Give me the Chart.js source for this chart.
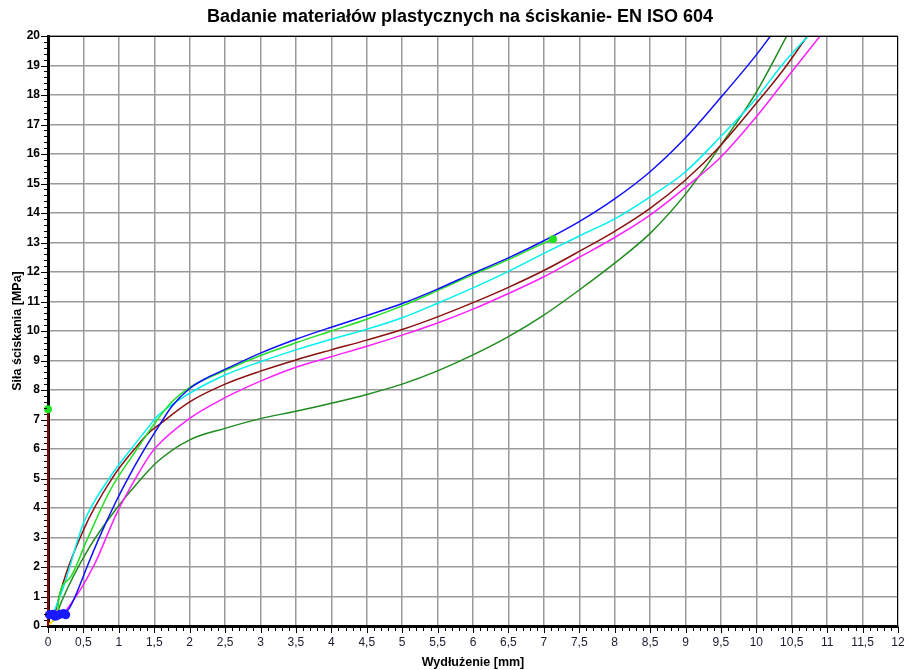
<!DOCTYPE html>
<html>
<head>
<meta charset="utf-8">
<script src="https://cdn.jsdelivr.net/npm/chart.js@4.4.1/dist/chart.umd.min.js"></script>
<style>
  html, body { margin: 0; padding: 0; background: #fff; }
  #wrap { width: 909px; height: 670px; }
</style>
</head>
<body>
<div id="wrap"><canvas id="chart"></canvas></div>
<script>
// Wydłużenie [mm] -> siła ściskania [MPa]
const blueX = [0.22, 0.3, 0.405, 0.55, 0.73, 0.97, 1.15, 1.3, 1.44, 1.56, 1.75, 2, 2.25, 2.5, 3, 3.5, 4, 4.5, 5, 5.5, 6, 6.5, 7, 7.5, 8, 8.5, 9, 9.5, 10, 10.2];
const blueY = [0.4, 0.6, 1.12, 2.0, 3.03, 4.27, 5.1, 5.74, 6.3, 6.76, 7.45, 8.05, 8.42, 8.7, 9.25, 9.72, 10.13, 10.52, 10.93, 11.42, 11.96, 12.48, 13.06, 13.71, 14.48, 15.4, 16.55, 17.92, 19.36, 20.0];

const greenX = [0.14, 0.15, 0.3, 0.55, 0.88, 1.2, 1.44, 1.53, 1.75, 2, 2.5, 3, 3.5, 4, 4.5, 5, 5.5, 6, 6.5, 7, 7.13];
const greenY = [0.4, 0.88, 1.6, 2.92, 4.61, 5.8, 6.65, 6.95, 7.6, 8.09, 8.66, 9.17, 9.6, 10.0, 10.4, 10.85, 11.37, 11.91, 12.42, 12.98, 13.11];

const cyanX = [0.08, 0.22, 0.5, 0.88, 1.2, 1.44, 1.53, 2, 2.5, 3, 3.5, 4, 4.5, 5, 5.5, 6, 6.5, 7, 7.5, 8, 8.5, 9, 9.5, 10, 10.38, 10.73];
const cyanY = [0.45, 1.33, 3.48, 5.06, 6.08, 6.81, 7.08, 7.89, 8.51, 8.96, 9.36, 9.72, 10.06, 10.45, 10.94, 11.46, 12.02, 12.63, 13.22, 13.8, 14.55, 15.4, 16.6, 17.89, 19.07, 20.0];

const brownX = [0.1, 0.12, 0.5, 0.92, 1.25, 1.44, 1.56, 2, 2.5, 3, 3.5, 4, 4.5, 5, 5.5, 6, 6.5, 7, 7.5, 8, 8.5, 9, 9.5, 10, 10.38, 10.72];
const brownY = [0.4, 0.65, 3.25, 5.06, 6.08, 6.59, 6.81, 7.6, 8.2, 8.64, 9.02, 9.36, 9.69, 10.05, 10.48, 10.96, 11.48, 12.05, 12.7, 13.38, 14.16, 15.12, 16.3, 17.72, 18.85, 20.0];

const magentaX = [0.2, 0.26, 0.64, 0.97, 1.25, 1.44, 1.53, 2, 2.5, 3, 3.5, 4, 4.5, 5, 5.5, 6, 6.5, 7, 7.5, 8, 8.5, 9, 9.5, 10, 10.48, 10.9];
const magentaY = [0.4, 0.54, 2.01, 3.82, 5.06, 5.8, 6.08, 7.04, 7.74, 8.3, 8.77, 9.13, 9.48, 9.86, 10.27, 10.74, 11.27, 11.84, 12.5, 13.17, 13.93, 14.87, 15.9, 17.26, 18.73, 20.0];

const darkGreenX = [0.12, 0.19, 0.59, 0.97, 1.3, 1.56, 2, 2.5, 3, 3.5, 4, 4.5, 5, 5.5, 6, 6.5, 7, 7.5, 8, 8.5, 9, 9.5, 10, 10.43];
const darkGreenY = [0.35, 0.82, 2.69, 3.99, 4.95, 5.6, 6.31, 6.7, 7.03, 7.28, 7.55, 7.85, 8.2, 8.65, 9.19, 9.81, 10.54, 11.39, 12.3, 13.31, 14.64, 16.3, 18.1, 20.0];

// pionowa linia przy osi Y (kolor brązowy) i jej znacznik
const axisLineX = [0, 0];
const axisLineY = [0, 7.35];

// znaczniki punktów startowych (niebieskie)
const startX = [0.02, 0.07, 0.1, 0.13, 0.17, 0.22, 0.25];
const startY = [0.38, 0.4, 0.33, 0.35, 0.4, 0.42, 0.38];

// zielone znaczniki
const markX = [0, 7.13];
const markY = [7.35, 13.11];

// mały żółty odcinek w początku układu
const yellowX = [0, 0.09];
const yellowY = [0.03, 0.22];

const X_MIN = 0, X_MAX = 12, X_STEP = 0.5;
const Y_MIN = 0, Y_MAX = 20, Y_STEP = 1;
const TITLE = 'Badanie materiałów plastycznych na ściskanie- EN ISO 604';
const FONT = 'Liberation Sans, Arial, sans-serif';

const pts = (xs, ys) => xs.map((x, i) => ({ x: x, y: ys[i] }));

function curve(label, xs, ys, color) {
    return {
        label: label,
        data: pts(xs, ys),
        showLine: true,
        borderColor: color,
        backgroundColor: color,
        borderWidth: 1.5,
        pointRadius: 0,
        cubicInterpolationMode: 'monotone',
    };
}

const frame = {
    id: 'frame',
    afterDraw(chart) {
        const { ctx, chartArea: a, scales: { x, y } } = chart;
        ctx.save();
        // tytuł
        ctx.fillStyle = '#000';
        ctx.font = 'bold 18px ' + FONT;
        ctx.textAlign = 'center';
        ctx.textBaseline = 'middle';
        ctx.fillText(TITLE, 460, 17);

        ctx.strokeStyle = '#000';
        ctx.lineWidth = 1;
        ctx.beginPath();
        ctx.moveTo(a.left, a.top + 0.5);
        ctx.lineTo(a.right - 0.5, a.top + 0.5);
        ctx.lineTo(a.right - 0.5, a.bottom);
        ctx.stroke();

        ctx.beginPath();
        for (let i = 0; i <= 120; i++) {
            const px = Math.round(x.getPixelForValue(i / 10)) + 0.5;
            const len = i % 5 === 0 ? 6 : 4;
            ctx.moveTo(px, a.bottom + 1);
            ctx.lineTo(px, a.bottom + 1 + len);
        }
        for (let i = 0; i <= 100; i++) {
            const py = Math.round(y.getPixelForValue(i / 5)) + 0.5;
            const len = i % 5 === 0 ? 6 : 3;
            ctx.moveTo(a.left - 1, py);
            ctx.lineTo(a.left - 1 - len, py);
        }
        ctx.stroke();
        ctx.restore();
    }
};

new Chart(document.getElementById('chart'), {
    type: 'scatter',
    data: {
        datasets: [
            {
                data: pts(markX, markY),
                pointRadius: 4,
                pointBackgroundColor: '#22e022',
                pointBorderWidth: 0,
                clip: false,
            },
            {
                data: pts(startX, startY),
                pointRadius: 4.5,
                pointBackgroundColor: '#1a1aff',
                pointBorderWidth: 0,
                clip: false,
            },
            {
                data: pts(axisLineX, axisLineY),
                showLine: true,
                borderColor: '#8b0000',
                borderWidth: 2,
                pointRadius: 0,
                clip: false,
            },
            {
                data: pts(yellowX, yellowY),
                showLine: true,
                borderColor: '#f0e000',
                borderWidth: 2,
                pointRadius: 0,
                clip: false,
            },
            curve('Próbka 1', blueX, blueY, '#1010ff'),
            curve('Próbka 2', greenX, greenY, '#22e022'),
            curve('Próbka 3', cyanX, cyanY, '#00f0f0'),
            curve('Próbka 4', brownX, brownY, '#8b1010'),
            curve('Próbka 5', magentaX, magentaY, '#ff20ff'),
            curve('Próbka 6', darkGreenX, darkGreenY, '#1e8c1e'),
        ]
    },
    options: {
        responsive: true,
        maintainAspectRatio: false,
        animation: false,
        layout: { padding: { left: 0, right: 11, top: 36, bottom: 0 } },
        plugins: {
            legend: { display: false },
            tooltip: { enabled: false },
            title: { display: false },
        },
        scales: {
            x: {
                type: 'linear',
                min: X_MIN, max: X_MAX,
                afterFit(s) { s.height = 44; s.paddingRight = 0; s.paddingLeft = 0; },
                ticks: {
                    stepSize: X_STEP,
                    padding: 9,
                    color: '#1c1c30',
                    maxRotation: 0,
                    autoSkip: false,
                    font: { family: FONT, size: 12 },
                    callback: v => String(v).replace('.', ','),
                },
                grid: { color: '#9a9a9a', lineWidth: 1.5, drawTicks: false },
                border: { color: '#000', width: 3 },
                title: {
                    display: true,
                    text: 'Wydłużenie [mm]',
                    color: '#000',
                    font: { family: FONT, size: 12.5, weight: 'bold' },
                    padding: { top: 4, bottom: 0 },
                }
            },
            y: {
                type: 'linear',
                min: Y_MIN, max: Y_MAX,
                afterFit(s) { s.width = 48; s.paddingTop = 0; s.paddingBottom = 0; },
                ticks: {
                    stepSize: Y_STEP,
                    padding: 8,
                    color: '#000',
                    autoSkip: false,
                    font: { family: FONT, size: 12, weight: 'bold' },
                },
                grid: { color: '#9a9a9a', lineWidth: 1.5, drawTicks: false },
                border: { color: '#000', width: 3 },
                title: {
                    display: true,
                    text: 'Siła ściskania [MPa]',
                    color: '#000',
                    font: { family: FONT, size: 12.5, weight: 'bold' },
                    padding: { top: 10, bottom: 0 },
                }
            }
        }
    },
    plugins: [frame]
});
</script>
</body>
</html>
